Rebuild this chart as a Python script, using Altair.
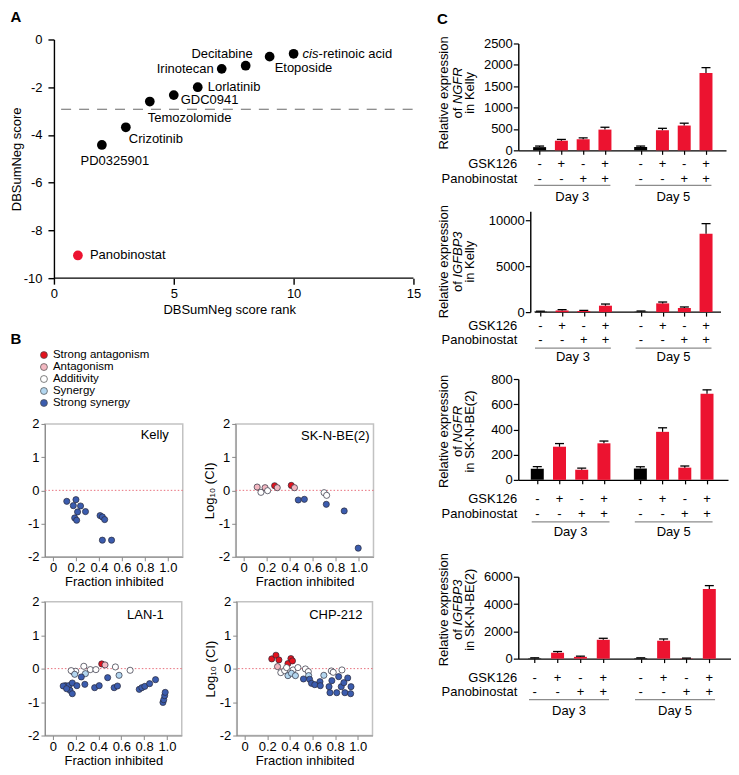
import altair as alt
import pandas as pd

FONT = "Liberation Sans"
FS = 13
RED = "#f0142f"

# ---------------- Panel A data ----------------
a_drugs = ["Panobinostat", "PD0325901", "Crizotinib", "Temozolomide", "GDC0941",
           "Lorlatinib", "Irinotecan", "Decitabine", "Etoposide", "cis-retinoic acid"]
a_rank = [1, 2, 3, 4, 5, 6, 7, 8, 9, 10]
a_score = [-9.05, -4.42, -3.68, -2.6, -2.33, -2.0, -1.23, -1.1, -0.72, -0.6]
a_cutoff = [-2.92]
a_ticks_x = [0, 5, 10, 15]
a_ticks_y = [0, -2, -4, -6, -8, -10]

# ---------------- Panel B data ----------------
b_classes = ["Strong antagonism", "Antagonism", "Additivity", "Synergy", "Strong synergy"]
b_fill = ["#e3121d", "#f3b8c1", "#ffffff", "#b3d6ef", "#3b5cae"]

kelly_fi = [0.12, 0.20, 0.177, 0.24, 0.214, 0.283, 0.189, 0.206, 0.41, 0.43, 0.45, 0.43, 0.51]
kelly_ci = [-0.33, -0.28, -0.46, -0.47, -0.65, -0.64, -0.83, -0.90, -0.76, -0.80, -0.88, -1.5, -1.5]
kelly_cls = [4, 4, 4, 4, 4, 4, 4, 4, 4, 4, 4, 4, 4]

skn_fi = [0.117, 0.15, 0.186, 0.208, 0.269, 0.292, 0.414, 0.442, 0.475, 0.528, 0.70, 0.722, 0.719, 0.875, 0.997]
skn_ci = [0.10, -0.06, 0.08, -0.01, 0.14, 0.08, 0.15, 0.08, -0.29, -0.27, -0.07, -0.15, -0.42, -0.62, -1.74]
skn_cls = [1, 2, 1, 2, 0, 1, 0, 1, 4, 4, 2, 2, 4, 4, 4]

lan_fi = [0.177, 0.20, 0.271, 0.328, 0.377, 0.548, 0.677, 0.16,
          0.191, 0.285, 0.58,
          0.428, 0.457,
          0.249, 0.11, 0.14, 0.17, 0.21, 0.28, 0.15, 0.17, 0.366, 0.406, 0.48, 0.537,
          0.566, 0.757, 0.78, 0.806, 0.848, 0.90, 0.965, 0.972, 0.98, 0.985, 0.09, 0.12]
lan_ci = [-0.10, -0.08, 0.07, -0.03, -0.03, 0.05, -0.05, -0.06,
          -0.17, -0.15, -0.20,
          0.14, 0.11,
          -0.25, -0.51, -0.51, -0.43, -0.51, -0.47, -0.65, -0.75, -0.57, -0.51, -0.27, -0.57,
          -0.52, -0.62, -0.57, -0.53, -0.45, -0.33, -1.01, -0.93, -0.81, -0.71, -0.52, -0.60]
lan_cls = [2, 2, 2, 2, 2, 2, 2, 2,
           3, 3, 3,
           0, 1,
           4, 4, 4, 4, 4, 4, 4, 4, 4, 4, 4, 4,
           4, 4, 4, 4, 4, 4, 4, 4, 4, 4, 4, 4]

chp_fi = [0.24, 0.277, 0.303, 0.383, 0.409, 0.423,
          0.291,
          0.32, 0.354, 0.371, 0.429, 0.471, 0.537, 0.563, 0.766, 0.783, 0.86,
          0.383, 0.414, 0.449, 0.566, 0.70,
          0.52, 0.574, 0.591, 0.62, 0.666, 0.669, 0.771, 0.746, 0.754, 0.831, 0.854, 0.877,
          0.886, 0.911, 0.94, 0.937, 0.814]
chp_ci = [0.29, 0.40, 0.26, 0.15, 0.30, 0.23,
          0.06,
          -0.12, -0.06, 0.03, -0.04, 0.03, -0.01, -0.09, -0.07, -0.11, -0.04,
          -0.21, -0.14, -0.21, -0.21, -0.20,
          -0.31, -0.32, -0.44, -0.48, -0.39, -0.51, -0.36, -0.54, -0.72, -0.24, -0.54, -0.42,
          -0.72, -0.28, -0.54, -0.75, -0.72]
chp_cls = [0, 0, 0, 0, 0, 0,
           1,
           2, 2, 2, 2, 2, 2, 2, 2, 2, 2,
           3, 3, 3, 3, 3,
           4, 4, 4, 4, 4, 4, 4, 4, 4, 4, 4, 4, 4, 4, 4, 4, 4]

# ---------------- Panel C data ----------------
c_gsk = ["-", "+", "-", "+", "-", "+", "-", "+"]
c_pano = ["-", "-", "+", "+", "-", "-", "+", "+"]
c_kind = ["ctrl", "trt", "trt", "trt", "ctrl", "trt", "trt", "trt"]
c_days = ["Day 3", "Day 5"]

ngfr_kelly = [75, 225, 258, 485, 75, 470, 580, 1810]
ngfr_kelly_err = [25, 30, 35, 55, 25, 45, 55, 125]
igfbp3_kelly = [40, 180, 110, 700, 50, 950, 450, 8550]
igfbp3_kelly_err = [60, 90, 80, 180, 70, 150, 110, 1100]
ngfr_skn = [88, 263, 80, 290, 90, 381, 97, 684]
ngfr_skn_err = [17, 25, 13, 18, 14, 32, 13, 30]
igfbp3_skn = [30, 430, 130, 1380, 30, 1310, 20, 5110]
igfbp3_skn_err = [30, 90, 50, 110, 30, 130, 20, 240]


# ---------------- helpers ----------------
def one(**kw):
    return pd.DataFrame({k: [v] for k, v in kw.items()})


def spacer(w, h, L, T, R, B):
    return alt.Chart(one(s=0)).mark_rule(opacity=0).encode(
        x=alt.value(-L), x2=alt.value(w + R), y=alt.value(-T), y2=alt.value(h + B))


def anchor():
    return alt.Chart(one(s=0)).mark_rule(opacity=0).encode(
        x=alt.value(0), x2=alt.value(1), y=alt.value(0), y2=alt.value(1)).properties(width=1, height=1)


def label(text, x, y, **kw):
    props = dict(baseline="middle", fontSize=FS, color="black")
    props.update(kw)
    return alt.Chart(one(t=text)).mark_text(**props).encode(
        x=alt.value(x), y=alt.value(y), text="t:N")


AXS = dict(labelFontSize=FS, titleFontSize=FS, titleFontWeight="normal", labelColor="black",
           titleColor="black", labelFont=FONT, titleFont=FONT, labelFlush=False, labelOverlap=False,
           grid=False)

# ---------------- Panel A ----------------
def panel_a():
    w, h = 369, 239
    df = pd.DataFrame({"drug": a_drugs, "rank": a_rank, "score": a_score})
    df["hit"] = df["drug"].map(lambda d: "hit" if d == "Panobinostat" else "other")
    ax_x = alt.Axis(values=a_ticks_x, title="DBSumNeg score rank", labelPadding=3, titlePadding=3,
                    domain=False, tickColor="black", tickWidth=1.4, tickSize=6, **AXS)
    ax_y = alt.Axis(values=a_ticks_y, title="DBSumNeg score", labelPadding=6, titlePadding=0, offset=-9,
                    labelExpr="'' + datum.value", domainColor="black", domainWidth=1.4,
                    tickColor="black", tickWidth=1.4, tickSize=6, **AXS)
    X = alt.X("rank:Q", scale=alt.Scale(domain=[-0.375, 15], nice=False, zero=False), axis=ax_x)
    Y = alt.Y("score:Q", scale=alt.Scale(domain=[-10, 0], nice=False, zero=False), axis=ax_y)
    base = alt.Chart(df)
    baseline = alt.Chart(pd.DataFrame({"rank": [0], "rank2": [15], "score": [-10]})).mark_rule(
        color="black", strokeWidth=1.4).encode(x=X, x2="rank2:Q", y=Y)
    cut = alt.Chart(pd.DataFrame({"rank": [0.3], "rank2": [15.2], "score": a_cutoff})).mark_rule(
        color="#6a6a6a", strokeDash=[10, 8], strokeWidth=1.1).encode(x=X, x2="rank2:Q", y=Y)
    pts = base.mark_circle(size=95, opacity=1).encode(
        x=X, y=Y, color=alt.Color("hit:N", scale=alt.Scale(domain=["other", "hit"], range=["#000000", "#ec1330"]),
                                  legend=None))
    label_pos = {
        "Panobinostat": ("left", 12, 0),
        "PD0325901": ("center", 13, 16),
        "Crizotinib": ("left", 3, 12),
        "Temozolomide": ("left", -2, 16),
        "GDC0941": ("left", 7, 5),
        "Lorlatinib": ("left", 10, 0),
        "Irinotecan": ("right", -8, 0),
        "Decitabine": ("right", 7, -12),
        "Etoposide": ("left", 5, 11),
    }
    layers = [baseline, cut, pts]
    for drug, (al, dx, dy) in label_pos.items():
        layers.append(base.transform_filter(alt.datum.drug == drug).mark_text(
            align=al, baseline="middle", dx=dx, dy=dy, fontSize=FS, color="black").encode(x=X, y=Y, text="drug:N"))
    cis = base.transform_filter(alt.datum.drug == "cis-retinoic acid")
    layers.append(cis.mark_text(align="left", baseline="middle", dx=9, fontSize=FS, fontStyle="italic",
                                color="black").encode(x=X, y=Y, text=alt.value("cis")))
    layers.append(cis.mark_text(align="left", baseline="middle", dx=25, fontSize=FS,
                                color="black").encode(x=X, y=Y, text=alt.value("-retinoic acid")))
    layers.append(label("A", -29, -23, fontWeight="bold", fontSize=15, align="center"))
    layers.append(spacer(w, h, 36, 30, 8, 44))
    return alt.layer(*layers).properties(width=w, height=h)


# ---------------- Panel B legend ----------------
def panel_b_legend():
    w, h = 100, 48
    df = pd.DataFrame({"cls": b_classes})
    Y = alt.Y("cls:N", sort=b_classes, scale=alt.Scale(type="point", padding=0), axis=None)
    pts = alt.Chart(df).mark_circle(size=48, opacity=1, stroke="#4a4a4a", strokeWidth=0.7).encode(
        y=Y, x=alt.value(-1),
        fill=alt.Fill("cls:N", scale=alt.Scale(domain=b_classes, range=b_fill), legend=None))
    txt = alt.Chart(df).mark_text(align="left", baseline="middle", fontSize=11.5, color="black").encode(
        y=Y, x=alt.value(8), text="cls:N")
    letter = label("B", -29, -16, fontWeight="bold", fontSize=15, align="center")
    return alt.layer(pts, txt, letter, spacer(w, h, 36, 33, 10, 7)).properties(width=w, height=h)


# ---------------- Panel B cells ----------------
def cell(name, fi, ci, cls, w, h, lab_r, lab_y, ytitle, L, T, R, B):
    df = pd.DataFrame({"f": fi, "ci": ci, "cls": [b_classes[c] for c in cls]})
    grey = "#8a8a8a"
    ax_x = alt.Axis(values=[0, 0.2, 0.4, 0.6, 0.8, 1.0],
                    labelExpr="datum.value == 0 ? '0' : format(datum.value, '.1f')",
                    title="Fraction inhibited", domainColor=grey, tickColor=grey, tickSize=4,
                    labelPadding=1, titlePadding=1, **AXS)
    ax_y = alt.Axis(values=[-2, -1, 0, 1, 2], labelExpr="'' + datum.value", title=ytitle,
                    domainColor=grey, tickColor=grey, tickSize=4, labelPadding=2, titlePadding=2, **AXS)
    X = alt.X("f:Q", scale=alt.Scale(domain=[-0.07, 1.13], nice=False, zero=False), axis=ax_x)
    Y = alt.Y("ci:Q", scale=alt.Scale(domain=[-2, 2], nice=False, zero=False), axis=ax_y)
    zero = alt.Chart(pd.DataFrame({"ci": [0]})).mark_rule(
        color="#e8707c", strokeDash=[1.5, 2], strokeWidth=1).encode(y=Y)
    pts = alt.Chart(df).mark_circle(size=38, opacity=1, stroke="#2a2a3a", strokeWidth=0.7).encode(
        x=X, y=Y, fill=alt.Fill("cls:N", scale=alt.Scale(domain=b_classes, range=b_fill), legend=None))
    name_t = label(name, w - lab_r, lab_y, align="right")
    return alt.layer(zero, pts, name_t, spacer(w, h, L, T, R, B)).properties(
        width=w, height=h, view=alt.ViewBackground(stroke="#c2c2c2", strokeWidth=1.5))


# ---------------- Panel C ----------------
POS = [1, 2, 3, 4, 5.64, 6.64, 7.64, 8.64]


def bar_panel(gene, gene_w, cell_name, vals, errs, ymax, ticks, w, h, xdom, T, B,
              gy, py, ly, dy, title_dy, yoff=0, base_from=None, letter=False):
    df = pd.DataFrame({"pos": POS, "val": vals, "top": [v + e for v, e in zip(vals, errs)],
                       "kind": c_kind, "gsk": c_gsk, "pano": c_pano})
    xs = alt.Scale(domain=xdom, nice=False, zero=False)
    ax_x = alt.Axis(values=POS, labels=False, title=None, domain=(base_from is None), domainColor="black",
                    domainWidth=1.4, tickColor="black", tickWidth=1.2, tickSize=4, **AXS)
    ys = alt.Scale(domain=[0, ymax], nice=False, zero=True)
    ax_y = alt.Axis(values=ticks, title=None, format="d", domainColor="black", domainWidth=1.4,
                    tickColor="black", tickWidth=1.2, tickSize=5, labelPadding=1, offset=yoff, **AXS)

    def X(f):
        return alt.X(f"{f}:Q", scale=xs, axis=ax_x)

    def Y(f):
        return alt.Y(f"{f}:Q", scale=ys, axis=ax_y, stack=None)

    base = alt.Chart(df)
    layers = []
    if base_from is not None:
        layers.append(alt.Chart(pd.DataFrame({"pos": [base_from], "end": [xdom[1]], "val": [0]})).mark_rule(
            color="black", strokeWidth=1.4).encode(x=X("pos"), x2="end:Q", y=Y("val")))
    bars = base.mark_bar(size=13, orient="vertical").encode(
        x=X("pos"), y=Y("val"),
        color=alt.Color("kind:N", scale=alt.Scale(domain=["ctrl", "trt"], range=["#111111", RED]), legend=None))
    err = base.mark_rule(color="black", strokeWidth=1.2).encode(x=X("pos"), y=Y("val"), y2="top:Q")
    cap = base.mark_tick(orient="horizontal", size=9, thickness=1.3, color="black", opacity=1).encode(
        x=X("pos"), y=Y("top"))
    gs = base.mark_text(fontSize=FS, baseline="middle", color="black").encode(
        x=X("pos"), y=alt.value(h + gy), text="gsk:N")
    ps = base.mark_text(fontSize=FS, baseline="middle", color="black").encode(
        x=X("pos"), y=alt.value(h + py), text="pano:N")
    g_lab = label("GSK126", -1, h + gy, align="right")
    p_lab = label("Panobinostat", -1, h + py, align="right")
    dd = pd.DataFrame({"day": c_days, "start": [POS[0] - 0.25, POS[4] - 0.25],
                       "end": [POS[3] + 0.25, POS[7] + 0.25],
                       "mid": [(POS[0] + POS[3]) / 2, (POS[4] + POS[7]) / 2]})
    dl = alt.Chart(dd).mark_rule(color="#8c8c8c", strokeWidth=1.3).encode(
        x=X("start"), x2="end:Q", y=alt.value(h + ly))
    dt = alt.Chart(dd).mark_text(fontSize=FS, baseline="middle", color="black").encode(
        x=X("mid"), y=alt.value(h + dy), text="day:N")
    cy = h / 2 + title_dy
    e = -(3.6 + gene_w - 10.8) / 2
    t1 = label("Relative expression", -74, cy, align="center", angle=270)
    t2a = label("of", -60.5, cy, align="right", angle=270, dx=e)
    t2b = label(gene, -60.5, cy, align="left", angle=270, dx=e + 3.6, fontStyle="italic")
    t3 = label("in " + cell_name, -48, cy, align="center", angle=270)
    layers += [bars, err, cap, gs, ps, g_lab, p_lab, dl, dt, t1, t2a, t2b, t3]
    if letter:
        layers.append(label("C", -76, -25, fontWeight="bold", fontSize=15, align="center"))
    layers.append(spacer(w, h, 81, T, 0, B))
    return alt.layer(*layers).properties(width=w, height=h)


A = panel_a()
LEG = panel_b_legend()
kelly = cell("Kelly", kelly_fi, kelly_ci, kelly_cls, 138, 133, 14, 11, None, 36, 13, 2, 34)
skn = cell("SK-N-BE(2)", skn_fi, skn_ci, skn_cls, 138, 133, 4, 12, "Log\u2081\u2080 (CI)", 41, 13, 2, 34)
lan = cell("LAN-1", lan_fi, lan_ci, lan_cls, 137, 134, 18, 13.5, None, 36, 9, 2, 30)
chp = cell("CHP-212", chp_fi, chp_ci, chp_cls, 136, 134, 10, 13.7, "Log\u2081\u2080 (CI)", 43, 9, 2, 30)

c1 = bar_panel("NGFR", 36.8, "Kelly", ngfr_kelly, ngfr_kelly_err, 2500, [0, 500, 1000, 1500, 2000, 2500],
               208, 107, [0.25, 9.33], 34, 54, 14, 28.6, 35, 47, -4, letter=True)
c2 = bar_panel("IGFBP3", 46.2, "Kelly", igfbp3_kelly, igfbp3_kelly_err, 11000, [0, 5000, 10000],
               208, 101, [0.21, 9.33], 6, 55, 14, 28.3, 36, 45, 0, yoff=-12, base_from=0.74)
c3 = bar_panel("NGFR", 36.8, "SK-N-BE(2)", ngfr_skn, ngfr_skn_err, 800, [0, 200, 400, 600, 800],
               210, 101, [0.37, 9.36], 12, 66, 19, 34, 42, 52, 2)
c4 = bar_panel("IGFBP3", 46.2, "SK-N-BE(2)", igfbp3_skn, igfbp3_skn_err, 6000, [0, 2000, 4000, 6000],
               213, 82, [0.5, 9.37], 31, 62, 19, 33.4, 41, 52, -8)

left = alt.vconcat(anchor(), A, LEG,
                   alt.hconcat(kelly, skn, spacing=8),
                   alt.hconcat(lan, chp, spacing=8), spacing=0)
right = alt.vconcat(anchor(), c1, c2, c3, c4, spacing=0)

chart = alt.hconcat(left, right, spacing=15).properties(
    padding={"left": 0, "top": 0, "right": 0, "bottom": 0}
).configure(font=FONT, padding={"left": 0, "top": 0, "right": 0, "bottom": 0}).configure_view(
    stroke=None
).configure_axis(labelFontSize=FS, titleFontSize=FS, titleFontWeight="normal", labelColor="black",
                 titleColor="black")

chart.save("out.html", embed_options={"renderer": "svg", "actions": False})
